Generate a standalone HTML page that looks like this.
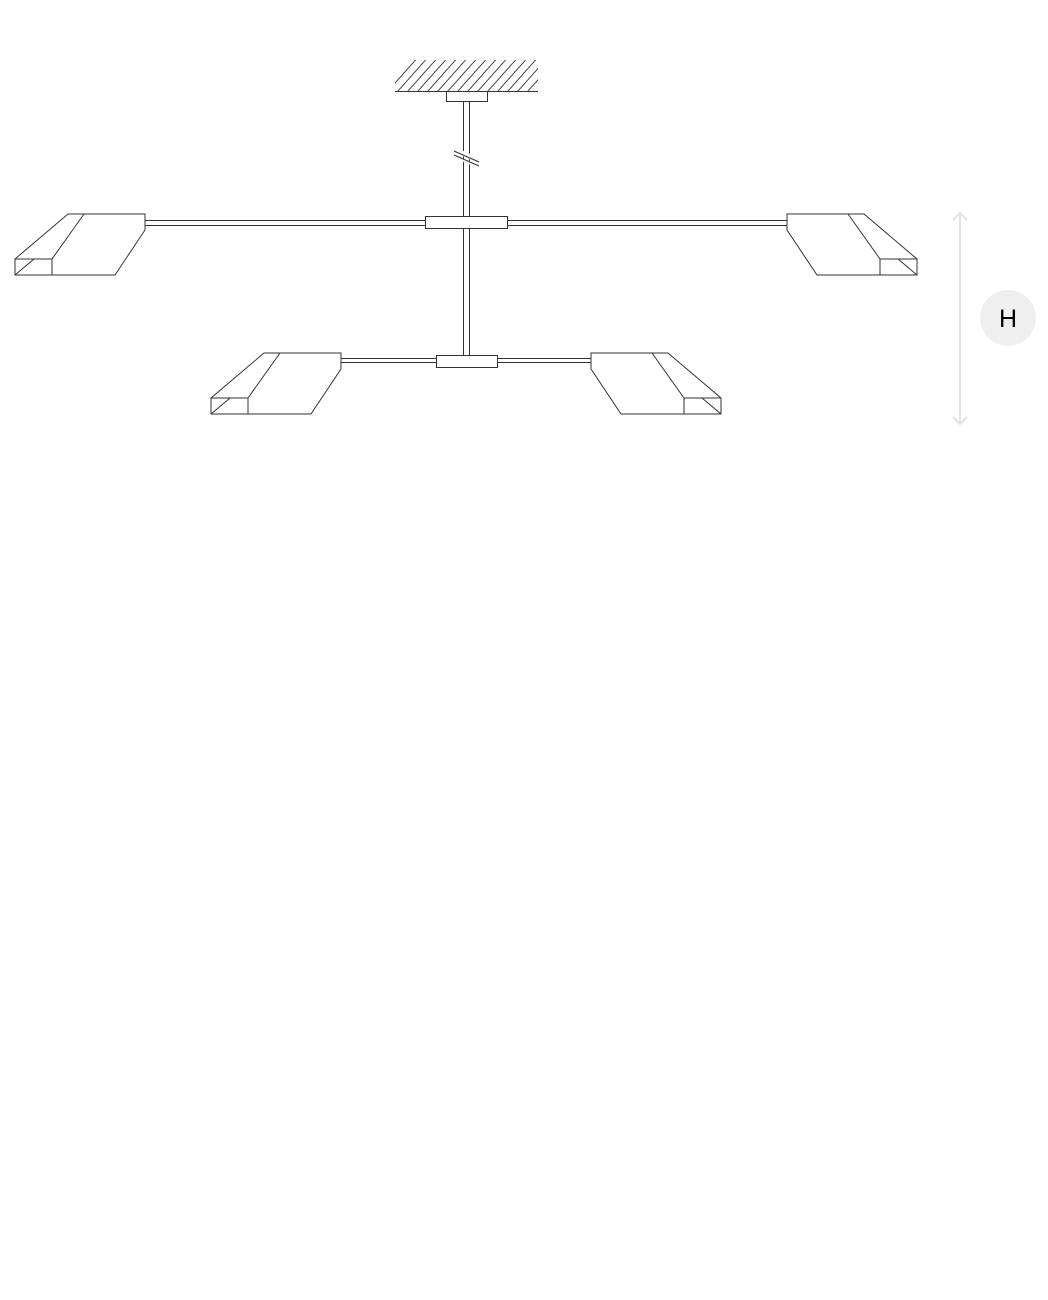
<!DOCTYPE html>
<html><head><style>body{margin:0;background:#fff}svg{display:block}</style></head><body>
<svg width="1048" height="1300" viewBox="0 0 1048 1300" xmlns="http://www.w3.org/2000/svg">
<defs>
<clipPath id="hc"><rect x="395" y="60" width="143" height="31"/></clipPath>
<g id="lamp" fill="none" stroke="#333" stroke-width="1">
<path d="M68,214 L145,214 L145,230 L115,275 L15,275 L15,259 Z" fill="#fff"/>
<path d="M84,214 L52,259 L15,259 M52,259 L52,275 M15,275 L34,259"/>
</g>
</defs>
<g clip-path="url(#hc)" stroke="#444" stroke-width="1">
<path d="M380,100 l40,-45 M390,100 l40,-45 M400,100 l40,-45 M410,100 l40,-45 M420,100 l40,-45 M430,100 l40,-45 M440,100 l40,-45 M450,100 l40,-45 M460,100 l40,-45 M470,100 l40,-45 M480,100 l40,-45 M490,100 l40,-45 M500,100 l40,-45 M510,100 l40,-45 M520,100 l40,-45 M530,100 l40,-45"/>
</g>
<g fill="none" stroke="#333" stroke-width="1">
<line x1="395" y1="91.5" x2="538" y2="91.5"/>
<line x1="463.5" y1="101" x2="463.5" y2="355"/>
<line x1="469.5" y1="101" x2="469.5" y2="355"/>
<rect x="446.5" y="91.5" width="41" height="10" fill="#fff"/>
<line x1="455" y1="150" x2="478" y2="160" stroke="#fff" stroke-width="5"/>
<line x1="454" y1="151" x2="479" y2="162"/>
<line x1="454" y1="156" x2="479" y2="167" stroke="#fff" stroke-width="3"/>
<line x1="454" y1="155" x2="479" y2="166"/>
<line x1="145" y1="220.5" x2="787" y2="220.5"/>
<line x1="145" y1="225.5" x2="787" y2="225.5"/>
<line x1="341" y1="358.5" x2="592" y2="358.5"/>
<line x1="341" y1="362.5" x2="592" y2="362.5"/>
<rect x="425.5" y="216.5" width="82" height="12" fill="#fff"/>
<rect x="436.5" y="355.5" width="61" height="12" fill="#fff"/>
</g>
<use href="#lamp"/>
<use href="#lamp" transform="translate(932,0) scale(-1,1)"/>
<use href="#lamp" transform="translate(196,139)"/>
<use href="#lamp" transform="translate(736,139) scale(-1,1)"/>
<g stroke="#e2e2e2" stroke-width="2" fill="none">
<line x1="960" y1="213" x2="960" y2="424"/>
<path d="M953,220 L960,213 L967,220 M953,417 L960,424 L967,417"/>
</g>
<circle cx="1008" cy="318" r="28" fill="#efefef"/>
<text x="1008" y="327" font-family="Liberation Sans, sans-serif" font-size="25" text-anchor="middle" fill="#000">H</text>
</svg>
</body></html>
